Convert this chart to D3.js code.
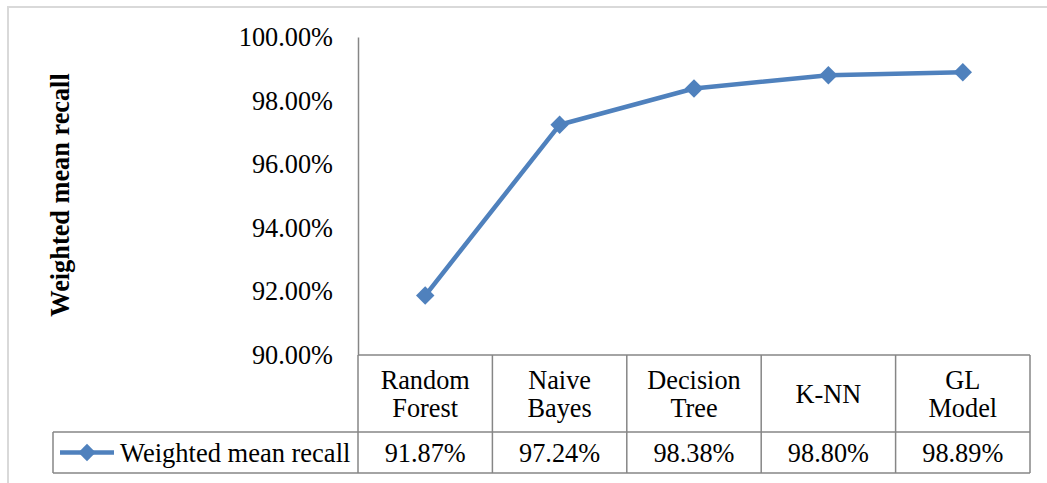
<!DOCTYPE html>
<html><head><meta charset="utf-8">
<script src="https://cdn.jsdelivr.net/npm/d3@7"></script>
</head>
<body style="margin:0;background:#fff">
<svg id="chart" width="1047" height="483" style="display:block"></svg>
<script>
const categories = [["Random","Forest"],["Naive","Bayes"],["Decision","Tree"],["K-NN"],["GL","Model"]];
const seriesName = "Weighted mean recall";
const values = [91.87, 97.24, 98.38, 98.80, 98.89];
const valueLabels = ["91.87%","97.24%","98.38%","98.80%","98.89%"];
const yTicks = [90, 92, 94, 96, 98, 100];
const yTitle = "Weighted mean recall";

const FONT = '"Liberation Serif"';
const FS = 26.3;
const svg = d3.select("#chart");
const W = 1047, H = 483;
const plot = {left: 358, right: 1030, top: 37, bottom: 355};
const tableRow = 432, tableBottom = 473, legendLeft = 53;
const gridColor = "#868686";
const lineColor = "#4F81BD";

function txt(sel, anchor, weight) {
  return sel.style("font-family", FONT).style("font-size", FS + "px")
    .style("font-weight", weight || "normal").attr("text-anchor", anchor).attr("fill", "#000");
}

// outer frame
svg.append("rect").attr("x", 8).attr("y", 7).attr("width", W + 10).attr("height", H + 10)
  .attr("fill", "none").attr("stroke", "#d9d9d9").attr("stroke-width", 2);

const x = d3.scaleBand().domain(d3.range(categories.length)).range([plot.left, plot.right]).padding(0);
const y = d3.scaleLinear().domain([90, 100]).range([plot.bottom, plot.top]);

// y axis
const yAxis = d3.axisLeft(y).tickValues(yTicks).tickSize(0).tickPadding(25)
  .tickFormat(d => d.toFixed(2) + "%");
const gy = svg.append("g").attr("transform", `translate(${plot.left},0)`).call(yAxis);
gy.attr("font-family", null).attr("font-size", null).attr("text-anchor", null);
gy.select(".domain").attr("stroke", gridColor).attr("stroke-width", 1.5);
txt(gy.selectAll("text"), "end");

// y title
txt(svg.append("text").attr("transform", `translate(69,195) rotate(-90)`), "middle", "bold").text(yTitle);

// table grid
const tg = svg.append("g").attr("stroke", gridColor).attr("stroke-width", 1.5).attr("fill", "none");
tg.append("line").attr("x1", plot.left).attr("x2", plot.right).attr("y1", plot.bottom).attr("y2", plot.bottom);
tg.append("line").attr("x1", legendLeft).attr("x2", plot.right).attr("y1", tableRow).attr("y2", tableRow);
tg.append("line").attr("x1", legendLeft).attr("x2", plot.right).attr("y1", tableBottom).attr("y2", tableBottom);
tg.append("line").attr("x1", legendLeft).attr("x2", legendLeft).attr("y1", tableRow).attr("y2", tableBottom);
const bounds = d3.range(categories.length + 1).map(i => i < categories.length ? x(i) : x(i - 1) + x.bandwidth());
tg.selectAll(".vl").data(bounds).join("line")
  .attr("x1", d => d).attr("x2", d => d).attr("y1", plot.bottom).attr("y2", tableBottom);

// header labels
categories.forEach((lines, i) => {
  const cx = x(i) + x.bandwidth() / 2;
  const mid = (plot.bottom + tableRow) / 2;
  const lh = 28;
  lines.forEach((ln, j) => {
    const by = mid + (j - (lines.length - 1) / 2) * lh + 9;
    txt(svg.append("text").attr("x", cx).attr("y", by), "middle").text(ln);
  });
});
// value labels
txt(svg.selectAll(".val").data(valueLabels).join("text").attr("class", "val"), "middle")
  .attr("x", (d, i) => x(i) + x.bandwidth() / 2).attr("y", (tableRow + tableBottom) / 2 + 9).text(d => d);

// legend key
const ly = (tableRow + tableBottom) / 2;
svg.append("line").attr("x1", 60).attr("x2", 114).attr("y1", ly).attr("y2", ly)
  .attr("stroke", lineColor).attr("stroke-width", 4.5);
const diamond = d3.symbol(d3.symbolSquare, 150)();
svg.append("path").attr("d", diamond).attr("transform", `translate(87,${ly}) rotate(45)`).attr("fill", lineColor);
txt(svg.append("text").attr("x", 120).attr("y", ly + 9), "start").style("font-size", "26.5px").text(seriesName);

// series line
const line = d3.line().x((d, i) => x(i) + x.bandwidth() / 2).y(d => y(d));
svg.append("path").datum(values).attr("d", line).attr("fill", "none")
  .attr("stroke", lineColor).attr("stroke-width", 4.5).attr("stroke-linejoin", "round");
svg.append("g").selectAll("path").data(values).join("path")
  .attr("d", d3.symbol(d3.symbolSquare, 170)())
  .attr("transform", (d, i) => `translate(${x(i) + x.bandwidth() / 2},${y(d)}) rotate(45)`)
  .attr("fill", lineColor);
</script>
</body></html>
